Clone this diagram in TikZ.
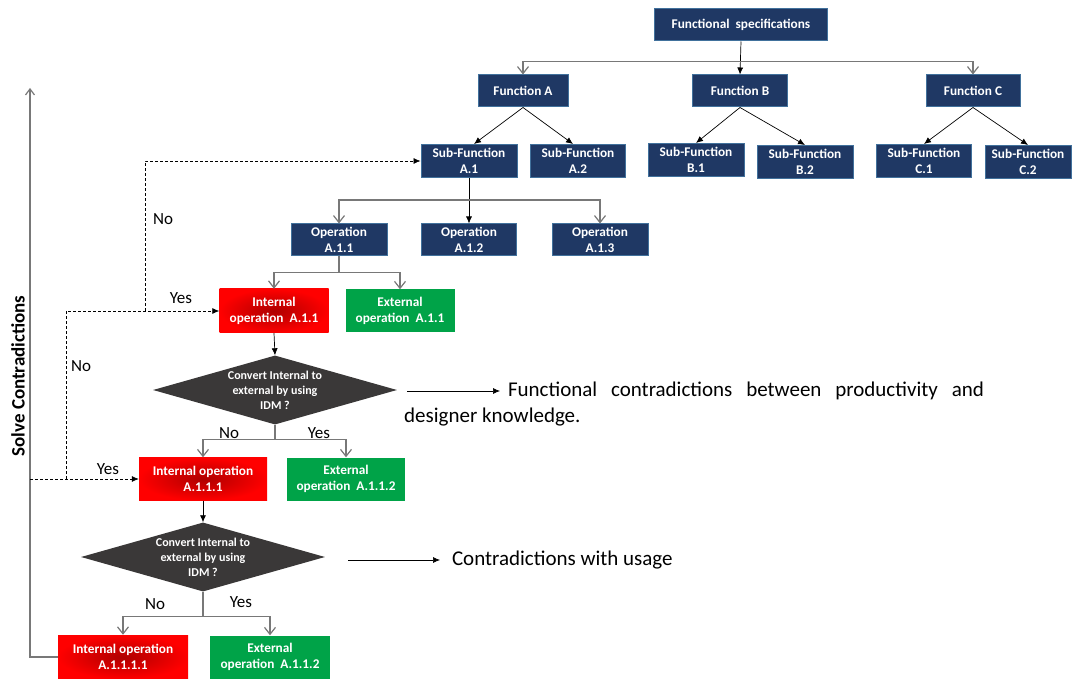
\documentclass[tikz,border=0pt]{standalone}
\usepackage{fontspec}
\setmainfont{Carlito}
\usetikzlibrary{arrows.meta,shapes.geometric}

\definecolor{navyfill}{RGB}{31,56,100}
\definecolor{navyedge}{RGB}{65,113,156}
\definecolor{opred}{RGB}{255,0,0}
\definecolor{opdark}{RGB}{175,0,0}
\definecolor{opgreen}{RGB}{0,163,72}
\definecolor{decgray}{RGB}{58,56,56}
\definecolor{linegray}{RGB}{120,120,120}

\tikzset{
  boxfont/.style={font=\bfseries\fontsize{13.3}{16.5}\selectfont},
  navybox/.style={boxfont, draw=navyedge, line width=1pt, fill=navyfill, text=white, align=center, inner sep=0pt, minimum height=32},
  redbox/.style={boxfont, inner color=opdark, outer color=opred, text=white, align=center, inner sep=0pt, minimum height=44},
  greenbox/.style={boxfont, fill=opgreen, text=white, align=center, inner sep=0pt, minimum height=43},
  decision/.style={diamond, fill=decgray, text=white, font=\bfseries\fontsize{12}{15}\selectfont, align=center, inner sep=0pt, aspect=3.5, minimum width=244, minimum height=69},
  elbow/.style={draw=linegray, line width=1.2pt, -{Straight Barb[length=7pt,width=11pt]}},
  straight/.style={line width=0.7pt, -{Latex[length=7pt,width=6pt]}},
  loopback/.style={line width=0.7pt, dash pattern=on 3pt off 2pt, -{Latex[length=7pt,width=6pt]}},
  answer/.style={font=\fontsize{17}{19}\selectfont, inner sep=0pt},
  remark/.style={font=\fontsize{21}{24}\selectfont, inner sep=0pt}
}

\begin{document}
\begin{tikzpicture}[x=1pt, y=-1pt]
\useasboundingbox (0,0) rectangle (1072,679);

% functions
\node[navybox, minimum width=173] (fs) at (741,25) {Functional\ \ specifications};
\node[navybox, minimum width=90] (fa) at (523,91) {Function A};
\node[navybox, minimum width=95] (fb) at (740,91) {Function B};
\node[navybox, minimum width=94] (fc) at (973,91) {Function C};

\node[navybox, minimum width=96, minimum height=33] (sa1) at (469,161) {Sub-Function\\A.1};
\node[navybox, minimum width=95, minimum height=33] (sa2) at (578,161) {Sub-Function\\A.2};
\node[navybox, minimum width=96, minimum height=33] (sb1) at (696,160) {Sub-Function\\B.1};
\node[navybox, minimum width=96, minimum height=33] (sb2) at (805,162) {Sub-Function\\B.2};
\node[navybox, minimum width=95, minimum height=33] (sc1) at (924,161) {Sub-Function\\C.1};
\node[navybox, minimum width=86, minimum height=33] (sc2) at (1028,162) {Sub-Function\\C.2};

\node[navybox, minimum width=96] (opa1) at (339,240) {Operation\\A.1.1};
\node[navybox, minimum width=95] (opa2) at (469,240) {Operation\\A.1.2};
\node[navybox, minimum width=96] (opa3) at (600,240) {Operation\\A.1.3};

% operations and decisions
\node[redbox, minimum width=109] (int1) at (274,311) {Internal\\operation\ \ A.1.1};
\node[greenbox, minimum width=109] (ext1) at (400,311) {External\\operation\ \ A.1.1};
\node[decision] (dec1) at (275,390) {Convert Internal to\\external by using\\IDM ?};

\node[redbox, minimum width=128, minimum height=43] (int2) at (203,479) {Internal operation\\A.1.1.1};
\node[greenbox, minimum width=118] (ext2) at (346,479) {External\\operation\ \ A.1.1.2};
\node[decision] (dec2) at (203,557) {Convert Internal to\\external by using\\IDM ?};

\node[redbox, minimum width=130] (int3) at (123,657) {Internal operation\\A.1.1.1.1};
\node[greenbox, minimum width=120] (ext3) at (270,657) {External\\operation\ \ A.1.1.2};

% tree connectors
\draw[straight] (fs.south) -- (fb.north);
\draw[elbow] ([yshift=-20pt]fs.south) -| (fa.north);
\draw[elbow] ([yshift=-20pt]fs.south) -| (fc.north);
\draw[straight] (fa.south) -- ([xshift=5pt]sa1.north);
\draw[straight] (fa.south) -- ([xshift=-5pt]sa2.north);
\draw[straight] (fb.south) -- (sb1.north);
\draw[straight] (fb.south) -- (sb2.north);
\draw[straight] (fc.south) -- (sc1.north);
\draw[straight] (fc.south) -- (sc2.north);

\draw[straight] (sa1.south) -- (opa2.north);
\draw[elbow] ([yshift=-22pt]sa1.south) -| (opa1.north);
\draw[elbow] ([yshift=-22pt]sa1.south) -| (opa3.north);

\coordinate (bus1) at ([yshift=-16pt]opa1.south);
\draw[linegray, line width=1.2pt] (opa1.south) -- (bus1);
\draw[elbow] (bus1) -| (int1.north);
\draw[elbow] (bus1) -| (ext1.north);

\draw[straight] (int1.south) -- (dec1.north);
\coordinate (bus2) at ([yshift=-15pt]dec1.south);
\draw[linegray, line width=1.2pt] (dec1.south) -- (bus2);
\draw[elbow] (bus2) -| (int2.north);
\draw[elbow] (bus2) -| (ext2.north);
\node[answer] (no1) at (229,433) {No};
\node[answer] (yes1) at (319,433) {Yes};

\draw[straight] (int2.south) -- (dec2.north);
\coordinate (bus3) at ([yshift=-25pt]dec2.south);
\draw[linegray, line width=1.2pt] (dec2.south) -- (bus3);
\draw[elbow] (bus3) -| (int3.north);
\draw[elbow] (bus3) -| (ext3.north);
\node[answer] (no2) at (155,604) {No};
\node[answer] (yes2) at (241,602) {Yes};

% contradictions
\node[remark, anchor=west, outer sep=8pt] (func) at (500,391)
  {\hbox to 476pt{Functional\hfill contradictions\hfill between\hfill productivity\hfill and}};
\node[remark, anchor=west] (know) at (404,417) {designer knowledge.};
\coordinate (c1) at (407,391);
\draw[straight] (c1) -- (func.west);

\node[remark, anchor=west, outer sep=12pt] (usage) at (440,560) {Contradictions with usage};
\coordinate (c2) at (348,560);
\draw[straight] (c2) -- (usage.west);

% feedback loops
\coordinate (top) at (30,88);
\draw[linegray, line width=1.2pt, -{Straight Barb[length=6pt,width=9pt]}] (int3.west) -| (top);
\node[font=\bfseries\fontsize{19}{21}\selectfont, rotate=90, inner sep=0pt] (solve) at (18,376) {Solve Contradictions};

\coordinate (d0) at (30,479);
\draw[loopback] (d0) -- (int2.west);
\node[answer] (yes3) at (108,469) {Yes};
\coordinate (d1) at (66,479);
\draw[loopback] (d1) |- (int1.west);
\node[answer] (no3) at (81,366) {No};
\node[answer] (yes4) at (181,298) {Yes};
\coordinate (d2) at (145,311);
\draw[loopback] (d2) |- (sa1.west);
\node[answer] (no4) at (163,219) {No};

\end{tikzpicture}
\end{document}
